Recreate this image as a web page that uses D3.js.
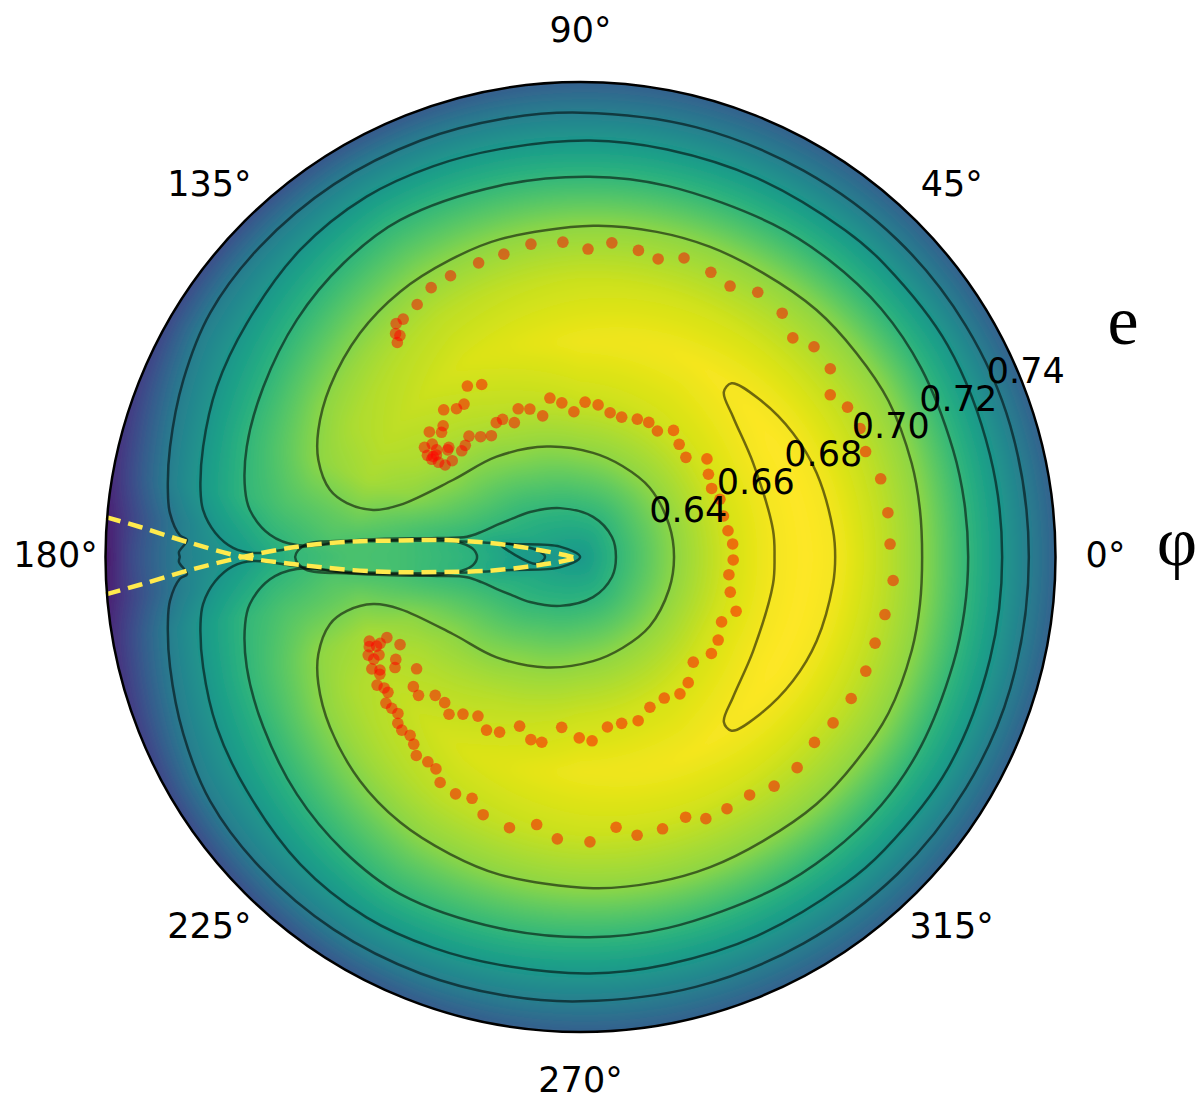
<!DOCTYPE html>
<html>
<head>
<meta charset="utf-8">
<script src="https://cdn.jsdelivr.net/npm/d3@7"></script>
<style>
body { margin: 0; background: #fff; }
text { font-family: "DejaVu Sans", sans-serif; fill: #000; }
</style>
</head>
<body>
<svg id="chart" width="1200" height="1102"></svg>
<script>
const thetaTicks = [0, 45, 90, 135, 180, 225, 270, 315];
const radialTicks = [0.64, 0.66, 0.68, 0.70, 0.72, 0.74];

// the trajectory, one phi and one e per point
const dotPhi = [130.5,129.6,129.2,128.3,126.7,122.9,119.0,114.8,109.1,104.2,99.0,93.2,88.6,84.3,79.3,75.4,70.9,65.4,61.1,56.2,50.4,45.9,42.0,37.0,33.0,29.3,24.7,20.3,14.6,8.2,2.4,355.7,349.3,343.7,338.2,332.4,326.7,321.6,315.8,310.2,305.4,300.2,295.6,292.0,286.8,281.5,277.5,271.9,265.3,260.7,255.3,249.3,245.8,242.2,238.1,235.7,233.3,230.4,228.3,226.3,224.1,222.3,220.6,218.7,216.9,215.1,213.7,212.2,210.3,209.4,208.2,206.3,204.8,205.9,203.0,203.6,201.7,203.3,202.6,205.9,209.0,210.8,214.3,217.8,220.5,223.6,227.0,230.1,233.2,237.2,241.5,245.2,250.2,254.8,258.2,263.7,269.6,273.6,279.0,283.9,289.4,294.8,300.7,306.0,310.6,317.0,323.6,328.9,335.3,340.8,346.8,353.2,358.9,4.9,10.1,16.0,22.5,27.6,32.9,37.8,43.4,48.8,53.7,58.6,63.1,67.6,73.6,78.4,83.4,88.3,92.6,96.9,100.9,105.0,108.9,112.8,116.2,119.5,122.1,126.3,129.7,132.7,135.9,138.2,143.1,145.8,146.3,146.7,146.4,145.7,144.7,144.9,142.7,143.3,141.1,140.2,140.4,138.1,136.3,132.9,129.9,127.3,123.5,119.8];
const dotEcc = [.6872,.6894,.6882,.6914,.6912,.6923,.6943,.6948,.6952,.6955,.6967,.6963,.6943,.6964,.6954,.6943,.6966,.6957,.6947,.6972,.6966,.6935,.6960,.6956,.6915,.6938,.6942,.6932,.6949,.6950,.6948,.6958,.6948,.6940,.6941,.6936,.6927,.6917,.6927,.6921,.6899,.6897,.6894,.6868,.6877,.6877,.6846,.6880,.6874,.6842,.6866,.6854,.6824,.6833,.6827,.6802,.6799,.6805,.6786,.6775,.6781,.6776,.6758,.6762,.6766,.6744,.6746,.6758,.6736,.6730,.6748,.6731,.6740,.6713,.6728,.6709,.6722,.6697,.6674,.6649,.6678,.6691,.6643,.6679,.6683,.6649,.6645,.6661,.6637,.6618,.6639,.6628,.6592,.6618,.6618,.6569,.6595,.6604,.6571,.6569,.6575,.6553,.6549,.6563,.6553,.6522,.6545,.6540,.6525,.6551,.6521,.6509,.6518,.6518,.6510,.6507,.6513,.6505,.6517,.6538,.6497,.6510,.6530,.6504,.6513,.6508,.6499,.6503,.6519,.6524,.6498,.6525,.6543,.6500,.6528,.6540,.6510,.6533,.6534,.6512,.6528,.6550,.6539,.6536,.6539,.6548,.6567,.6587,.6603,.6588,.6583,.6622,.6610,.6591,.6567,.6569,.6637,.6611,.6620,.6650,.6629,.6626,.6661,.6644];

// contours, upper half only as [phi, e], mirrored below
const contourA = [[0,.7327],[17,.7330],[31,.7330],[45,.7327],[60,.7321],[75,.7318],[90,.7316],[100,.7318],[111,.7321],[123.5,.7323],[136,.7321],[146.6,.7314],[156,.7290],[165,.7263],[170.8,.7244],[173.9,.7230],[176.9,.7198],[177.5,.7178],[179.3,.7199],[180,.7197]];
const contourB = [[0,.7254],[14,.7255],[30,.7260],[44,.7255],[51,.7251],[65,.7244],[78,.7240],[88.7,.7240],[101.2,.7238],[110.6,.7243],[120.7,.7247],[132.4,.7238],[145,.7215],[154.9,.7199],[163.7,.7176],[170,.7156],[172.9,.7141],[176.2,.7102],[178.5,.7051],[179.3,.6996],[178,.6868],[176.2,.6724],[174.9,.6596],[173,.6460],[169.4,.6294],[153.3,.6163],[180,.6101]];
const contourC = [[0,.7161],[8,.7161],[16,.7161],[29,.7166],[39.5,.7167],[50,.7160],[60,.7152],[76.7,.7143],[88.6,.7141],[102.3,.7140],[118.2,.7146],[128.9,.7133],[140.1,.7112],[151.8,.7085],[161.7,.7062],[168.7,.7036],[171.9,.7014],[175.9,.6952],[177.6,.6877],[176,.6732],[174.6,.6596],[172.5,.6496],[169.9,.6416],[165.5,.6378],[159,.6345],[150.3,.6313],[138.3,.6285],[112.7,.6245],[72.6,.6215],[32.4,.6202],[0,.6197]];
const contourD = [[0,.6356],[20,.6358],[45,.6368],[65,.6374],[83.1,.6387],[107,.6416],[129.9,.6458],[148.9,.6508],[163.9,.6614],[167.2,.6682],[167,.6756],[165,.6810],[159.7,.6865],[154.2,.6897],[145.8,.6929],[134.6,.6960],[124.2,.6978],[113.7,.6988],[104.3,.6997],[87.8,.7007],[76.8,.7014],[67.3,.7020],[57.3,.7024],[46.3,.7035],[36.5,.7039],[26.9,.7045],[15.8,.7042],[8,.7038],[0,.7035]];
const contourE = [[0,.6631],[8,.6632],[28.6,.6638],[42.6,.6667],[49,.6698],[49,.6730],[41.2,.6753],[30.3,.6773],[19.6,.6786],[6.1,.6795],[0,.6797]];
const contourLens = [[180,.6881],[177.5,.6855],[175.9,.6732],[172.9,.6496],[173.4,.6427],[175.7,.6395],[180,.6383]];
const contourHook = [[170.8,.6323],[170.9,.6221],[180,.6197]];
const contours = [contourA, contourB, contourC, contourD, contourE, contourLens, contourHook];

// the two separatrix branches
const separatrixLower = [[175.2,.7403],[176.1,.7308],[177.8,.7178],[180,.7024],[181.6,.6868],[183.3,.6724],[184.8,.6596],[186.2,.6481],[188.6,.6351],[190.3,.6249],[192.3,.6177],[201.8,.6107]];
const separatrixUpper = [[184.5,.7403],[183.6,.7308],[182,.7177],[180,.7024],[177.8,.6868],[176.1,.6724],[174.8,.6596],[173,.6482],[171.2,.6351],[170.4,.6260],[170.5,.6204],[172.6,.6143],[211,.6108]];

// colour field: at each phi, e knots and their place on the viridis ramp
const fieldPhi = [0, 30, 60, 90, 120, 150, 160, 170, 175, 180];
const fieldEcc = [
    [.61,.6197,.6356,.6497,.6631,.6716,.6797,.6921,.7035,.7161,.7254,.7327,.74],
    [.61,.6201,.6360,.6500,.6639,.6708,.6773,.6921,.7046,.7166,.7260,.7329,.74],
    [.61,.6220,.6368,.6530,.6716,.6860,.7023,.7152,.7247,.7321,.74],
    [.61,.6229,.6385,.6530,.6688,.6860,.7007,.7141,.7240,.7316,.74],
    [.61,.6253,.6428,.6560,.6716,.6860,.6981,.7146,.7247,.7323,.74],
    [.61,.6313,.6511,.6610,.6716,.6820,.6913,.7080,.7203,.7304,.74],
    [.61,.6344,.6584,.6716,.6864,.7066,.7178,.7271,.74],
    [.61,.6264,.6415,.6716,.6921,.7031,.7156,.7244,.74],
    [.61,.6264,.6415,.6593,.6784,.6951,.7102,.7197,.74],
    [.61,.6193,.6319,.6401,.6593,.6729,.6880,.6976,.7022,.7187,.7323,.74]
];
const fieldLevel = [
    [.53,.66,.83,.93,.985,1,.985,.91,.83,.66,.53,.43,.31],
    [.53,.66,.83,.93,.985,1,.985,.91,.83,.66,.53,.43,.31],
    [.53,.66,.83,.93,.985,.93,.83,.66,.53,.43,.31],
    [.53,.66,.83,.92,.975,.92,.83,.66,.53,.43,.30],
    [.53,.66,.83,.90,.945,.90,.83,.66,.53,.43,.27],
    [.53,.66,.83,.875,.895,.875,.83,.66,.53,.43,.22],
    [.53,.66,.83,.87,.83,.66,.53,.43,.18],
    [.53,.55,.66,.78,.72,.66,.53,.43,.13],
    [.53,.54,.64,.70,.73,.66,.53,.43,.09],
    [.53,.52,.60,.65,.70,.71,.66,.58,.54,.44,.24,.06]
];

const svg = d3.select("#chart");
const center = { x: 580.5, y: 557 };
const outerRadius = 475;

const radius = d3.scaleLinear().domain([0.61, 0.74]).range([0, outerRadius]);
const angle = d3.scaleLinear().domain([0, 360]).range([Math.PI / 2, Math.PI / 2 - 2 * Math.PI]);

const plot = svg.append("g").attr("transform", `translate(${center.x},${center.y})`);

// field
const rowScales = fieldEcc.map((e, i) => d3.scaleLinear().domain(e).range(fieldLevel[i]).clamp(true));
const pad = 24;
const size = 2 * (outerRadius + pad);
const canvas = document.createElement("canvas");
canvas.width = size;
canvas.height = size;
const ctx = canvas.getContext("2d");
const img = ctx.createImageData(size, size);
const phiBisect = d3.bisector(d => d).right;
for (let py = 0; py < size; py++) {
    for (let px = 0; px < size; px++) {
        const dx = px + 0.5 - size / 2, dy = size / 2 - py - 0.5;
        const phi = Math.abs(Math.atan2(dy, dx)) * 180 / Math.PI;
        const e = radius.invert(Math.hypot(dx, dy));
        const j = Math.min(phiBisect(fieldPhi, phi), fieldPhi.length - 1);
        const w = (phi - fieldPhi[j - 1]) / (fieldPhi[j] - fieldPhi[j - 1]);
        const level = rowScales[j - 1](e) * (1 - w) + rowScales[j](e) * w;
        const c = d3.rgb(d3.interpolateViridis(level));
        const k = (py * size + px) * 4;
        img.data[k] = c.r; img.data[k + 1] = c.g; img.data[k + 2] = c.b; img.data[k + 3] = 255;
    }
}
ctx.putImageData(img, 0, 0);

const defs = svg.append("defs");
defs.append("clipPath").attr("id", "disc").append("circle").attr("r", outerRadius);
const blur = defs.append("filter").attr("id", "soft").attr("x", 0).attr("y", 0).attr("width", 1).attr("height", 1);
blur.append("feGaussianBlur").attr("stdDeviation", 4);

plot.append("g")
    .attr("clip-path", "url(#disc)")
    .append("image")
    .attr("x", -size / 2)
    .attr("y", -size / 2)
    .attr("width", size)
    .attr("height", size)
    .attr("filter", "url(#soft)")
    .attr("href", canvas.toDataURL());

// contours
const closedLine = d3.lineRadial()
    .angle(d => angle(d[0]))
    .radius(d => radius(d[1]))
    .curve(d3.curveCatmullRomClosed);

function mirrorPoints(points) {
    return points.slice(1, -1).reverse().map(d => [360 - d[0], d[1]]);
}

plot.append("g").selectAll("path")
    .data(contours)
    .enter()
    .append("path")
    .attr("d", d => closedLine(d.concat(mirrorPoints(d))))
    .attr("fill", "none")
    .attr("stroke", "#000")
    .attr("stroke-opacity", 0.55)
    .attr("stroke-width", 2.5);

// separatrix
const openLine = d3.lineRadial()
    .angle(d => angle(d[0]))
    .radius(d => radius(d[1]))
    .curve(d3.curveCatmullRom);

plot.append("g").selectAll("path")
    .data([separatrixLower, separatrixUpper])
    .enter()
    .append("path")
    .attr("d", openLine)
    .attr("fill", "none")
    .attr("stroke", "#ffea4d")
    .attr("stroke-width", 4.5)
    .attr("stroke-dasharray", "15,8");

// trajectory
plot.append("g").selectAll("circle")
    .data(d3.range(dotPhi.length))
    .enter()
    .append("circle")
    .attr("cx", i => d3.pointRadial(angle(dotPhi[i]), radius(dotEcc[i]))[0])
    .attr("cy", i => d3.pointRadial(angle(dotPhi[i]), radius(dotEcc[i]))[1])
    .attr("r", 5.8)
    .attr("fill", "#ff0000")
    .attr("fill-opacity", 0.5);

plot.append("circle")
    .attr("r", outerRadius)
    .attr("fill", "none")
    .attr("stroke", "#000")
    .attr("stroke-width", 2.5);

// angle labels
plot.append("g").selectAll("text")
    .data(thetaTicks)
    .enter()
    .append("text")
    .attr("x", d => d3.pointRadial(angle(d), outerRadius + 50)[0])
    .attr("y", d => d3.pointRadial(angle(d), outerRadius + 50)[1] - 2)
    .attr("text-anchor", "middle")
    .attr("dominant-baseline", "central")
    .attr("font-size", 35)
    .text(d => d + "°");

// e labels sit along 22.5 degrees
plot.append("g").selectAll("text")
    .data(radialTicks)
    .enter()
    .append("text")
    .attr("x", d => d3.pointRadial(angle(22.5), radius(d) + 7)[0])
    .attr("y", d => d3.pointRadial(angle(22.5), radius(d) + 7)[1] - 2)
    .attr("text-anchor", "middle")
    .attr("dominant-baseline", "central")
    .attr("font-size", 35)
    .text(d => d3.format(".2f")(d));

svg.append("text")
    .attr("x", 1123).attr("y", 344)
    .attr("text-anchor", "middle")
    .attr("font-size", 70)
    .style("font-family", "'Liberation Serif', serif")
    .text("e");

svg.append("text")
    .attr("x", 1177).attr("y", 565)
    .attr("text-anchor", "middle")
    .attr("font-size", 70)
    .style("font-family", "'Liberation Serif', serif")
    .text("φ");
</script>
</body>
</html>
